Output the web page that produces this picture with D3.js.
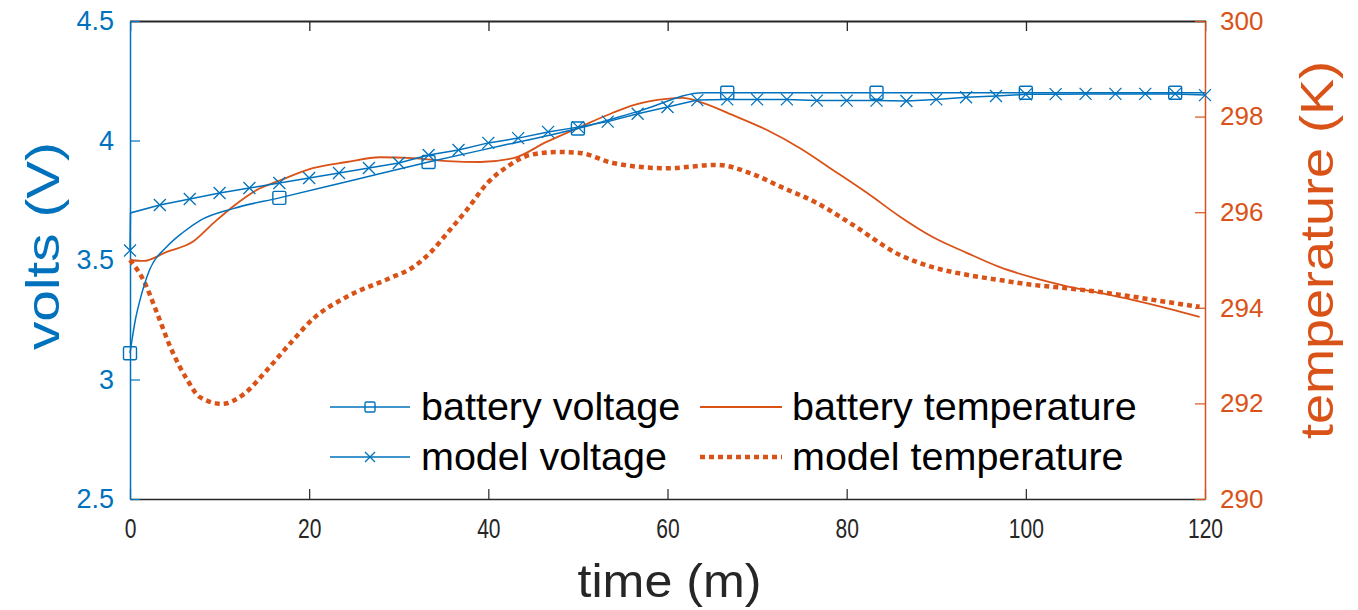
<!DOCTYPE html>
<html>
<head>
<meta charset="utf-8">
<script src="https://cdn.jsdelivr.net/npm/d3@7"></script>
<style>
  body { margin: 0; background: #fff; }
  svg { display: block; font-family: "Liberation Sans", Arial, sans-serif; }
</style>
</head>
<body>
<svg id="chart" width="1358" height="610"></svg>
<script>
// battery voltage (measured), V
const battT = [0, 0.2, 0.6, 1.1, 2.2, 4.1, 5.9, 7.8, 11.5, 16.67, 25, 33.33, 41.67, 50, 57, 64, 66.67, 83.33, 100, 116.67, 120];
const battV = [3.11, 3.16, 3.25, 3.33, 3.46, 3.555, 3.615, 3.665, 3.715, 3.76, 3.835, 3.91, 3.98, 4.05, 4.125, 4.20, 4.20, 4.20, 4.20, 4.20, 4.20];
const battMarkT = [0, 16.67, 33.33, 50, 66.67, 83.33, 100, 116.67];

// model voltage, V (line jumps up right after t=0)
const modelT = [0, 0.05, 3.33, 6.67, 10, 13.33, 16.67, 20, 23.33, 26.67, 30, 33.33, 36.67, 40, 43.33, 46.67, 50,
  53.33, 56.67, 60, 63.33, 66.67, 70, 73.33, 76.67, 80, 83.33, 86.67, 90, 93.33, 96.67, 100, 103.33, 106.67, 110,
  113.33, 116.67, 120];
const modelV = [3.54, 3.697, 3.73, 3.755, 3.78, 3.801, 3.822, 3.843, 3.864, 3.885, 3.906, 3.939, 3.96, 3.99, 4.01, 4.036, 4.056,
  4.079, 4.112, 4.14, 4.169, 4.172, 4.172, 4.172, 4.167, 4.167, 4.167, 4.165, 4.172, 4.181, 4.186, 4.193, 4.194, 4.195, 4.195,
  4.195, 4.195, 4.19];
const modelSkip = [1]; // no marker on this sample

// battery temperature (measured), K
const tempT = [0, 1.5, 4.1, 7, 9.3, 11.5, 14.1, 16.7, 20.4, 24.2, 27.9, 31.6, 35.4, 39.1, 42.8, 46.5, 50.2, 53.9, 56.2,
  59.9, 61.7, 63.6, 67.3, 71.1, 74.8, 78.5, 82.3, 86, 89.6, 93.4, 97.1, 100.8, 104.6, 108.3, 112, 115.8, 119.4];
const tempK = [295.0, 294.98, 295.17, 295.38, 295.77, 296.12, 296.46, 296.66, 296.92, 297.05, 297.15, 297.13, 297.07, 297.05,
  297.13, 297.47, 297.78, 298.08, 298.24, 298.37, 298.39, 298.31, 298.03, 297.72, 297.34, 296.88, 296.40, 295.90, 295.48,
  295.15, 294.85, 294.63, 294.45, 294.31, 294.16, 293.99, 293.81];

// model temperature, K
const mtempT = [0, 1.5, 3, 4.5, 6.4, 7.8, 10.3, 12.6, 15.3, 17.9, 20.5, 24.2, 29, 31.6, 33.5, 35.4, 37.6, 39.9, 42.1, 44.7,
  47.7, 50.2, 53.9, 59.9, 65.5, 69.2, 72.9, 76.7, 80.4, 86, 89.6, 93.4, 97.1, 100.8, 104.6, 108.3, 112, 115.8, 119.4];
const mtempK = [295.0, 294.58, 293.9, 293.18, 292.49, 292.13, 291.99, 292.18, 292.7, 293.26, 293.78, 294.23, 294.62, 294.85,
  295.15, 295.56, 296.05, 296.61, 296.95, 297.2, 297.26, 297.24, 297.03, 296.92, 296.99, 296.82, 296.51, 296.19, 295.77,
  295.1, 294.85, 294.69, 294.58, 294.48, 294.41, 294.33, 294.23, 294.12, 294.02];

const xTicks = [0, 20, 40, 60, 80, 100, 120];
const vTicks = [2.5, 3, 3.5, 4, 4.5];
const kTicks = [290, 292, 294, 296, 298, 300];
const legendLabels = ["battery voltage", "model voltage", "battery temperature", "model temperature"];

const blue = "#0072BD", orange = "#D95319", dark = "#262626";
const pLeft = 130, pRight = 1205, pTop = 21, pBottom = 499;

const svg = d3.select("#chart");

let x = d3.scaleLinear().domain([0, 120]).range([pLeft, pRight]);
let yV = d3.scaleLinear().domain([2.5, 4.5]).range([pBottom, pTop]);
let yK = d3.scaleLinear().domain([290, 300]).range([pBottom, pTop]);

// top edge of the box, as a filled strip, plus its inward ticks
svg.append("rect").attr("x", x(0)).attr("y", yV(4.5) - 0.5)
  .attr("width", x(120) - x(0) + 1).attr("height", 2).attr("fill", dark);
svg.append("g").selectAll("rect").data(xTicks).enter().append("rect")
  .attr("x", d => x(d)).attr("y", pTop).attr("width", 1.3).attr("height", 10).attr("fill", dark);

// axes
let xAxis = d3.axisBottom(x).tickValues(xTicks).tickSizeInner(-10).tickSizeOuter(0).tickPadding(19);
let vAxis = d3.axisLeft(yV).tickValues(vTicks).tickSizeInner(-10).tickSizeOuter(0).tickPadding(16).tickFormat(d3.format(".1~f"));
let kAxis = d3.axisRight(yK).tickValues(kTicks).tickSizeInner(-10).tickSizeOuter(0).tickPadding(15);

function styleAxis(g, color, size) {
  g.select(".domain").attr("stroke", color).attr("stroke-width", 1.5);
  g.selectAll(".tick line").attr("stroke", color).attr("stroke-width", 1.2);
  g.selectAll(".tick text").attr("fill", color).attr("font-size", size)
    .attr("font-family", "'Liberation Sans', Arial, sans-serif");
}

svg.append("g").attr("transform", `translate(0,${pBottom})`).call(xAxis).call(g => styleAxis(g, dark, 28))
  .call(g => g.selectAll(".tick text")
    .attr("textLength", d => String(d).length * 11.7).attr("lengthAdjust", "spacingAndGlyphs"));
svg.append("g").attr("transform", `translate(${pLeft},0)`).call(vAxis).call(g => styleAxis(g, blue, 27));
svg.append("g").attr("transform", `translate(${pRight},0)`).call(kAxis).call(g => styleAxis(g, orange, 26));

// axis titles
svg.append("text").attr("x", (pLeft + pRight) / 2 + 2).attr("y", 597)
  .attr("text-anchor", "middle").attr("font-size", 47).attr("fill", dark)
  .attr("textLength", 184).attr("lengthAdjust", "spacingAndGlyphs").text("time (m)");
svg.append("text").attr("transform", "translate(59,246) rotate(-90)")
  .attr("text-anchor", "middle").attr("font-size", 46).attr("fill", blue)
  .attr("textLength", 208).attr("lengthAdjust", "spacingAndGlyphs").text("volts (V)");
svg.append("text").attr("transform", "translate(1333,250) rotate(-90)")
  .attr("text-anchor", "middle").attr("font-size", 46).attr("fill", orange)
  .attr("textLength", 378).attr("lengthAdjust", "spacingAndGlyphs").text("temperature (K)");

// lines
let lineV = d3.line().x(d => x(d[0])).y(d => yV(d[1]));
let lineK = d3.line().x(d => x(d[0])).y(d => yK(d[1])).curve(d3.curveMonotoneX);
let lineVs = d3.line().x(d => x(d[0])).y(d => yV(d[1])).curve(d3.curveMonotoneX);

let battData = battT.map((t, i) => [t, battV[i]]);
let modelData = modelT.map((t, i) => [t, modelV[i]]);
let tempData = tempT.map((t, i) => [t, tempK[i]]);
let mtempData = mtempT.map((t, i) => [t, mtempK[i]]);

let plot = svg.append("g");

plot.append("path").datum(mtempData).attr("d", lineK).attr("fill", "none")
  .attr("stroke", orange).attr("stroke-width", 4.5).attr("stroke-dasharray", "5,4");
plot.append("path").datum(tempData).attr("d", lineK).attr("fill", "none")
  .attr("stroke", orange).attr("stroke-width", 1.8);
plot.append("path").datum(battData).attr("d", lineVs).attr("fill", "none")
  .attr("stroke", blue).attr("stroke-width", 1.5);
plot.append("path").datum(modelData).attr("d", lineV).attr("fill", "none")
  .attr("stroke", blue).attr("stroke-width", 1.5);

// markers
function square(g, cx, cy, s) {
  g.append("rect").attr("x", cx - s / 2).attr("y", cy - s / 2).attr("width", s).attr("height", s)
    .attr("rx", 1.5).attr("fill", "none").attr("stroke", blue).attr("stroke-width", 1.4);
}
function cross(g, cx, cy, s) {
  let h = s / 2;
  g.append("path").attr("d", `M${cx - h},${cy - h}L${cx + h},${cy + h}M${cx - h},${cy + h}L${cx + h},${cy - h}`)
    .attr("stroke", blue).attr("stroke-width", 1.3).attr("fill", "none");
}

battData.filter(d => battMarkT.includes(d[0])).forEach(d => square(plot, x(d[0]), yV(d[1]), 13));
modelData.filter((d, i) => !modelSkip.includes(i)).forEach(d => cross(plot, x(d[0]), yV(d[1]), 12));

// legend
let legend = svg.append("g").attr("font-size", 39.5).attr("fill", "#000");
let rows = [407, 457];
let cols = [[330, 410, 421], [700, 782, 792]];
legendLabels.forEach((lab, i) => {
  let c = cols[Math.floor(i / 2)], y = rows[i % 2];
  let ln = legend.append("line").attr("x1", c[0]).attr("x2", c[1]).attr("y1", y).attr("y2", y)
    .attr("stroke", i < 2 ? blue : orange);
  if (i === 3) ln.attr("stroke-width", 4.5).attr("stroke-dasharray", "5,4");
  else ln.attr("stroke-width", i === 2 ? 1.8 : 1.5);
  if (i === 0) square(legend, (c[0] + c[1]) / 2, y, 10);
  if (i === 1) cross(legend, (c[0] + c[1]) / 2, y, 10);
  legend.append("text").attr("x", c[2]).attr("y", y + 13).text(lab);
});
</script>
</body>
</html>
